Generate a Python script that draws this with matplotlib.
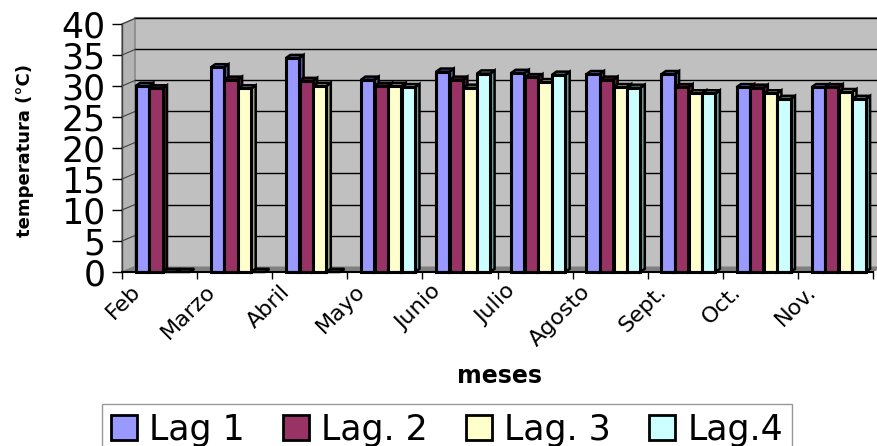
import numpy as np
import matplotlib
matplotlib.use("Agg")
import matplotlib.pyplot as plt
from matplotlib.patches import Polygon, Patch

# data
meses = ["Feb", "Marzo", "Abril", "Mayo", "Junio", "Julio", "Agosto", "Sept.", "Oct.", "Nov."]
series = ["Lag 1", "Lag. 2", "Lag. 3", "Lag.4"]
lag1 = [30.0, 33.0, 34.5, 31.0, 32.3, 32.1, 31.9, 31.9, 29.8, 29.8]
lag2 = [29.6, 31.0, 30.8, 30.0, 31.0, 31.4, 31.0, 29.8, 29.7, 29.8]
lag3 = [0.0, 29.6, 30.0, 30.0, 29.7, 30.6, 29.8, 28.8, 28.8, 29.0]
lag4 = [0.0, 0.0, 0.0, 29.8, 32.0, 31.8, 29.7, 28.8, 27.9, 27.9]
valores = [lag1, lag2, lag3, lag4]

colores = ["#9999FF", "#993366", "#FFFFCC", "#CCFFFF"]
lados = ["#5C5CA8", "#5A1E3C", "#A8A880", "#6E9E9E"]
yticks = list(range(0, 41, 5))

W, H = 877, 446
fig = plt.figure(figsize=(W / 100.0, H / 100.0), dpi=100)
ax = fig.add_axes([122.0 / W, 1 - 272.0 / H, 751.0 / W, 248.0 / H])
ax.set_xlim(0, len(meses))
ax.set_ylim(0, 40)

# pixel -> data helpers
pxx = len(meses) / 751.0
pxy = 40.0 / 248.0

# back wall offset (3d look)
wx, wy = 13 * pxx, 5.5 * pxy
n = len(meses)

def poly(pts, fc, ec="none", lw=0, z=1):
	p = Polygon(pts, closed=True, facecolor=fc, edgecolor=ec, linewidth=lw, zorder=z, clip_on=False)
	ax.add_patch(p)

# wall, side wall, floor
poly([(wx, wy), (n + wx, wy), (n + wx, 40 + wy), (wx, 40 + wy)], "#C0C0C0", z=0.5)
poly([(0, 0), (wx, wy), (wx, 40 + wy), (0, 40)], "#B4B4B4", ec="#808080", lw=1, z=0.6)
poly([(0, 0), (n, 0), (n + wx, wy), (wx, wy)], "#808080", z=0.7)
ax.plot([wx, n + wx], [40 + wy, 40 + wy], color="#808080", lw=1.5, clip_on=False, zorder=0.8)

# gridlines on wall
for t in yticks[1:]:
	ax.plot([wx, n + wx], [t + wy, t + wy], color="black", lw=1, clip_on=False, zorder=0.9)
	ax.plot([0, wx], [t, t + wy], color="#404040", lw=0.8, clip_on=False, zorder=0.9)

# bars
bw = 13.2 * pxx
step = 13.6 * pxx
off0 = 13.7 * pxx
base = 0.0
dx, dy = 4.5 * pxx, 3.2 * pxy
for k in range(len(series)):
	for i in range(n):
		v = valores[k][i]
		x0 = i + off0 + k * step
		y1 = base + v
		z = 2 + k * 0.01 + i * 0.1
		# side
		poly([(x0 + bw, base), (x0 + bw + dx, base + dy), (x0 + bw + dx, y1 + dy), (x0 + bw, y1)], lados[k], ec="black", lw=1.8, z=z)
		# top
		poly([(x0, y1), (x0 + dx, y1 + dy), (x0 + bw + dx, y1 + dy), (x0 + bw, y1)], lados[k] if v > 0 else "#303030", ec="black", lw=1.8, z=z)
		# front
		if v > 0:
			poly([(x0, base), (x0 + bw, base), (x0 + bw, y1), (x0, y1)], colores[k], ec="black", lw=2.2, z=z + 0.005)

# axes look
for s in ["top", "right"]:
	ax.spines[s].set_visible(False)
ax.spines["left"].set_color("#404040")
ax.spines["left"].set_linewidth(1)
ax.spines["bottom"].set_color("black")
ax.spines["bottom"].set_linewidth(1.5)
ax.spines["bottom"].set_zorder(5)
ax.set_yticks(yticks)
ax.set_yticklabels([str(t) for t in yticks], fontsize=25)
ax.set_xticks(range(n + 1))
ax.set_xticklabels([])
ax.tick_params(axis="y", length=7, width=1, pad=5)
ax.tick_params(axis="x", length=5, width=1)
ax.patch.set_visible(False)

for i, m in enumerate(meses):
	ax.text(i + 0.2, -2.6, m, rotation=45, rotation_mode="anchor", ha="right", va="center", fontsize=16, clip_on=False)

ax.set_ylabel("temperatura (°C)", fontsize=13, fontweight="bold")
ax.yaxis.set_label_coords(-88.0 / 751, 0.49)
fig.text(0.570, 1 - 376.0 / H, "meses", fontsize=17, fontweight="bold", ha="center", va="center")

handles = [Patch(facecolor=c, edgecolor="black", linewidth=2) for c in colores]
leg = fig.legend(handles, series, loc="upper left", bbox_to_anchor=(102.0 / W, 1 - 404.0 / H), borderaxespad=0,
	ncol=4, fontsize=25, frameon=True, fancybox=False, handlelength=0.75, handleheight=0.75,
	handletextpad=0.35, columnspacing=1.1, borderpad=0.25)
leg.get_frame().set_edgecolor("#808080")
leg.get_frame().set_linewidth(1)

fig.savefig("out.png", dpi=100)
